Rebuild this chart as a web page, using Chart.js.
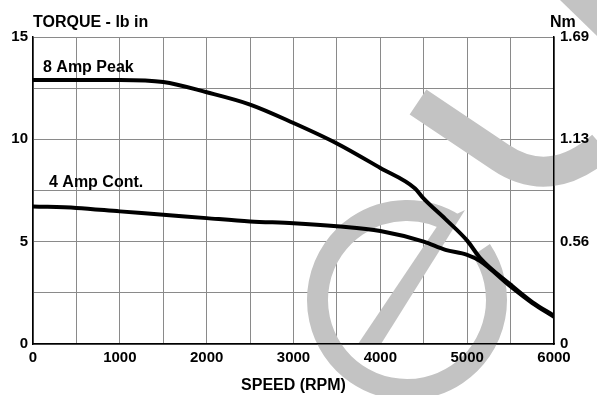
<!DOCTYPE html>
<html>
<head>
<meta charset="utf-8">
<script src="https://cdn.jsdelivr.net/npm/chart.js@4/dist/chart.umd.min.js"></script>
<style>
html,body{margin:0;padding:0;background:#fff;}
#wrap{width:597px;height:395px;position:relative;}
</style>
</head>
<body>
<div id="wrap"><canvas id="c"></canvas></div>
<script>
// ---- data ----
const peakSpeed = [0, 500, 1000, 1500, 2000, 2500, 3000, 3500, 4000, 4400, 4500, 4750, 5000, 5150, 5500, 5750, 6000];
const peakTorque = [12.9, 12.9, 12.9, 12.8, 12.3, 11.7, 10.8, 9.8, 8.6, 7.6, 7.1, 6.1, 5.05, 4.2, 2.9, 2.05, 1.38];
const contSpeed = [0, 500, 1000, 1500, 2000, 2500, 3000, 3500, 4000, 4500, 4750, 5000, 5150, 5500, 5750, 6000];
const contTorque = [6.72, 6.65, 6.48, 6.32, 6.15, 5.99, 5.9, 5.75, 5.52, 5.0, 4.6, 4.36, 4.05, 2.81, 2.0, 1.33];
const speedTicks = [0, 1000, 2000, 3000, 4000, 5000, 6000];
const torqueTicks = [0, 5, 10, 15];
const nmTicks = ['0', '0.56', '1.13', '1.69'];
const seriesNames = ['8 Amp Peak', '4 Amp Cont.'];
const seriesLabelPos = [[115, 13.27], [184, 7.65]];

const FONT = '"Liberation Sans", Arial, sans-serif';

const toXY = (xs, ys) => xs.map((x, i) => ({x: x, y: ys[i]}));

const watermark = {
  id: 'watermark',
  beforeDatasetsDraw(chart) {
    const ctx = chart.ctx;
    ctx.save();
    ctx.fillStyle = '#c3c3c3';
    ctx.strokeStyle = '#c3c3c3';
    // ring
    ctx.lineWidth = 21;
    ctx.lineCap = 'butt';
    ctx.beginPath();
    ctx.arc(407, 300, 89.5, -34 * Math.PI / 180, 302 * Math.PI / 180);
    ctx.stroke();
    // slash
    ctx.beginPath();
    ctx.moveTo(358, 344);
    ctx.lineTo(381, 344);
    ctx.lineTo(465, 210);
    ctx.lineTo(440, 222);
    ctx.closePath();
    ctx.fill();
    // hook
    ctx.lineWidth = 30;
    ctx.beginPath();
    ctx.moveTo(418, 102);
    ctx.lineTo(500, 157);
    ctx.quadraticCurveTo(550, 191, 602, 146);
    ctx.stroke();
    // top-right corner stripe
    ctx.beginPath();
    ctx.moveTo(560, 0);
    ctx.lineTo(597, 0);
    ctx.lineTo(597, 36);
    ctx.closePath();
    ctx.fill();
    ctx.restore();
  },
  afterDatasetsDraw(chart) {
    const ctx = chart.ctx;
    const xs = chart.scales.x, ys = chart.scales.y;
    ctx.save();
    ctx.fillStyle = '#000';
    ctx.font = 'bold 16px ' + FONT;
    ctx.textBaseline = 'alphabetic';
    ctx.textAlign = 'left';
    seriesNames.forEach((n, i) => {
      ctx.fillText(n, xs.getPixelForValue(seriesLabelPos[i][0]), ys.getPixelForValue(seriesLabelPos[i][1]));
    });
    ctx.fillText('TORQUE - lb in', 33, 27);
    ctx.fillText('Nm', 550, 27);
    ctx.restore();
  }
};

new Chart(document.getElementById('c'), {
  type: 'line',
  data: {
    datasets: [
      {label: seriesNames[0], data: toXY(peakSpeed, peakTorque), borderColor: '#000', borderWidth: 4, pointRadius: 0, cubicInterpolationMode: 'monotone', fill: false},
      {label: seriesNames[1], data: toXY(contSpeed, contTorque), borderColor: '#000', borderWidth: 4, pointRadius: 0, cubicInterpolationMode: 'monotone', fill: false}
    ]
  },
  options: {
    responsive: true,
    maintainAspectRatio: false,
    animation: false,
    layout: {padding: {top: 37, left: 0, right: 0, bottom: 0}},
    plugins: {legend: {display: false}, tooltip: {enabled: false}},
    scales: {
      x: {
        type: 'linear', min: 0, max: 6000,
        afterBuildTicks(s) {
          const t = [];
          for (let v = 0; v <= 6000; v += 500) t.push({value: v});
          s.ticks = t;
        },
        afterFit(s) { s.height = 51; },
        grid: {color: '#8a8a8a', lineWidth: 1, drawTicks: false},
        border: {color: '#000', width: 1.5, z: 1},
        ticks: {
          z: 1, padding: 5, maxRotation: 0, autoSkip: false, color: '#000',
          font: {family: FONT, size: 15, weight: 'bold'},
          callback: v => speedTicks.includes(v) ? String(v) : ''
        },
        title: {display: true, text: 'SPEED (RPM)', color: '#000', font: {family: FONT, size: 16, weight: 'bold'}, padding: {top: 0, bottom: 0}}
      },
      y: {
        type: 'linear', position: 'left', min: 0, max: 15,
        afterBuildTicks(s) {
          const t = [];
          for (let v = 0; v <= 15; v += 2.5) t.push({value: v});
          s.ticks = t;
        },
        afterFit(s) { s.width = 33; },
        grid: {color: '#8a8a8a', lineWidth: 1, drawTicks: false},
        border: {color: '#000', width: 1.5, z: 1},
        ticks: {
          z: 1, padding: 5, autoSkip: false, color: '#000',
          font: {family: FONT, size: 15, weight: 'bold'},
          callback: v => torqueTicks.includes(v) ? String(v) : ''
        }
      },
      y2: {
        type: 'linear', position: 'right', min: 0, max: 15,
        afterBuildTicks(s) { s.ticks = torqueTicks.map(v => ({value: v})); },
        afterFit(s) { s.width = 43; },
        grid: {display: false, drawTicks: false},
        border: {color: '#000', width: 1.5, z: 1},
        ticks: {
          z: 1, padding: 6, autoSkip: false, color: '#000',
          font: {family: FONT, size: 15, weight: 'bold'},
          callback: v => nmTicks[torqueTicks.indexOf(v)]
        }
      }
    }
  },
  plugins: [watermark]
});
</script>
</body>
</html>
